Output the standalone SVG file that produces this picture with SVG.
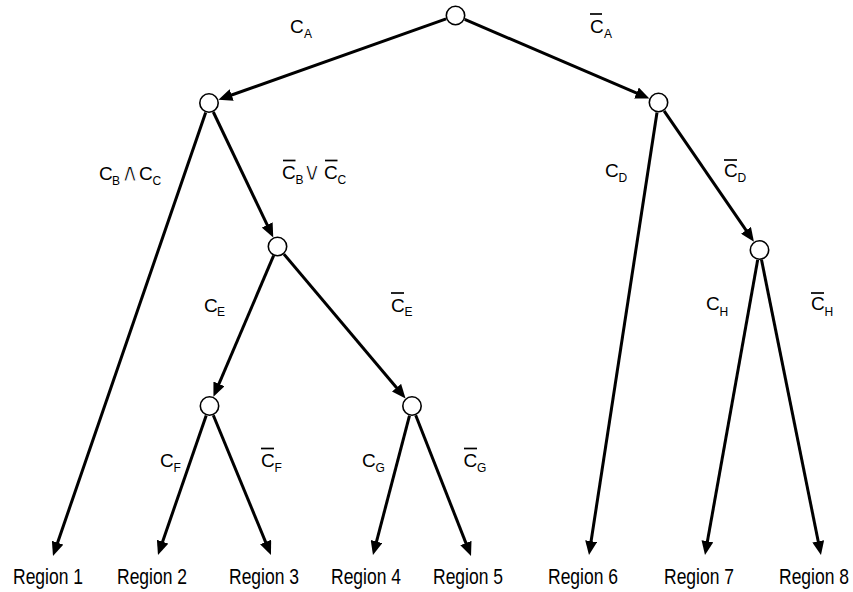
<svg xmlns="http://www.w3.org/2000/svg" width="853" height="592" viewBox="0 0 853 592">
  <style>
    .node { fill: #ffffff; stroke: #000000; stroke-width: 1.6; }
    .edge { stroke: #000000; stroke-width: 3; fill: none; marker-end: url(#head); }
    .c { font-family: "Liberation Sans", Arial, sans-serif; font-size: 19px; fill: #000; }
    .s { font-family: "Liberation Sans", Arial, sans-serif; font-size: 12px; fill: #000; }
    .op { font-family: "DejaVu Sans", sans-serif; font-size: 25px; fill: #000; text-anchor: middle; stroke: #fff; stroke-width: 0.9; }
    .bar { stroke: #000; stroke-width: 1.7; }
    .region { font-family: "Liberation Sans", Arial, sans-serif; font-size: 17.5px; fill: #000; }
  </style>
  <defs>
    <marker id="head" markerUnits="userSpaceOnUse" markerWidth="14" markerHeight="12" viewBox="0 0 14 12" refX="6" refY="6" orient="auto">
      <path d="M0,0 L14,6 L0,12 z" fill="#000"/>
    </marker>
  </defs>
  <rect width="853" height="592" fill="#ffffff"/>

  <!-- connectors: line ends 8px short of the arrow tip; the marker supplies the tip -->
  <g id="connectors">
    <line class="edge" x1="446.1" y1="18.8" x2="226.0" y2="97.0"/>
    <line class="edge" x1="464.7" y1="19.4" x2="642.0" y2="95.4"/>
    <line class="edge" x1="205.7" y1="112.5" x2="55.6" y2="548.4"/>
    <line class="edge" x1="213.3" y1="112.0" x2="269.8" y2="230.3"/>
    <line class="edge" x1="657.0" y1="112.4" x2="590.2" y2="547.1"/>
    <line class="edge" x1="664.1" y1="110.8" x2="749.4" y2="235.2"/>
    <line class="edge" x1="273.6" y1="255.7" x2="216.6" y2="389.4"/>
    <line class="edge" x1="283.9" y1="254.1" x2="400.4" y2="392.3"/>
    <line class="edge" x1="206.2" y1="415.5" x2="160.6" y2="547.4"/>
    <line class="edge" x1="213.3" y1="415.2" x2="267.9" y2="547.6"/>
    <line class="edge" x1="409.5" y1="415.7" x2="375.0" y2="547.3"/>
    <line class="edge" x1="415.7" y1="415.3" x2="468.1" y2="548.6"/>
    <line class="edge" x1="757.7" y1="259.8" x2="706.4" y2="547.1"/>
    <line class="edge" x1="761.5" y1="259.8" x2="819.4" y2="547.2"/>
  </g>

  <!-- decision nodes -->
  <g id="n-root"><circle class="node" cx="455.5" cy="15.5" r="9.2"/></g>
  <g id="n-left"><circle class="node" cx="209" cy="103" r="9.2"/></g>
  <g id="n-right"><circle class="node" cx="658.5" cy="102.5" r="9.2"/></g>
  <g id="n-left-2"><circle class="node" cx="277.5" cy="246.5" r="9.2"/></g>
  <g id="n-right-2"><circle class="node" cx="759.5" cy="250" r="9.2"/></g>
  <g id="n-left-3a"><circle class="node" cx="209.5" cy="406" r="9.2"/></g>
  <g id="n-left-3b"><circle class="node" cx="412" cy="406" r="9.2"/></g>

  <!-- branch conditions -->
  <g id="labels">
    <text class="c" x="290" y="33">C</text><text class="s" x="304" y="37.5">A</text>

    <line class="bar" x1="590" y1="14" x2="602" y2="14"/>
    <text class="c" x="590" y="33">C</text><text class="s" x="604" y="37.5">A</text>

    <text class="c" x="99" y="180">C</text><text class="s" x="112" y="184.5">B</text>
    <text class="op" x="130" y="181">∧</text>
    <text class="c" x="139" y="180">C</text><text class="s" x="152.5" y="184.5">C</text>

    <line class="bar" x1="283" y1="160.5" x2="295.5" y2="160.5"/>
    <text class="c" x="282" y="179">C</text><text class="s" x="295.5" y="183.5">B</text>
    <text class="op" x="312" y="180">∨</text>
    <line class="bar" x1="325" y1="160.5" x2="337.5" y2="160.5"/>
    <text class="c" x="324" y="179">C</text><text class="s" x="337.5" y="183.5">C</text>

    <text class="c" x="605" y="177">C</text><text class="s" x="618.5" y="182">D</text>

    <line class="bar" x1="724" y1="160" x2="737" y2="160"/>
    <text class="c" x="724" y="177">C</text><text class="s" x="737.5" y="182">D</text>

    <text class="c" x="204" y="311.5">C</text><text class="s" x="217" y="316">E</text>

    <line class="bar" x1="391" y1="293" x2="404" y2="293"/>
    <text class="c" x="391" y="311.5">C</text><text class="s" x="404.5" y="316">E</text>

    <text class="c" x="706" y="310">C</text><text class="s" x="719.5" y="315.5">H</text>

    <line class="bar" x1="811" y1="293" x2="824" y2="293"/>
    <text class="c" x="811" y="310">C</text><text class="s" x="824.5" y="315.5">H</text>

    <text class="c" x="160" y="467">C</text><text class="s" x="173.5" y="472">F</text>

    <line class="bar" x1="261" y1="448.5" x2="274" y2="448.5"/>
    <text class="c" x="261" y="467">C</text><text class="s" x="274.5" y="472">F</text>

    <text class="c" x="362" y="467">C</text><text class="s" x="375.5" y="472">G</text>

    <line class="bar" x1="464" y1="448.5" x2="477" y2="448.5"/>
    <text class="c" x="463.5" y="467">C</text><text class="s" x="477" y="472">G</text>
  </g>

  <!-- leaf regions: narrow type, stretched vertically -->
  <g id="regions">
    <text class="region" transform="translate(13,584) scale(1,1.25)">Region 1</text>
    <text class="region" transform="translate(117,584) scale(1,1.25)">Region 2</text>
    <text class="region" transform="translate(229,584) scale(1,1.25)">Region 3</text>
    <text class="region" transform="translate(331,584) scale(1,1.25)">Region 4</text>
    <text class="region" transform="translate(433,584) scale(1,1.25)">Region 5</text>
    <text class="region" transform="translate(548,584) scale(1,1.25)">Region 6</text>
    <text class="region" transform="translate(664,584) scale(1,1.25)">Region 7</text>
    <text class="region" transform="translate(779,584) scale(1,1.25)">Region 8</text>
  </g>
</svg>
